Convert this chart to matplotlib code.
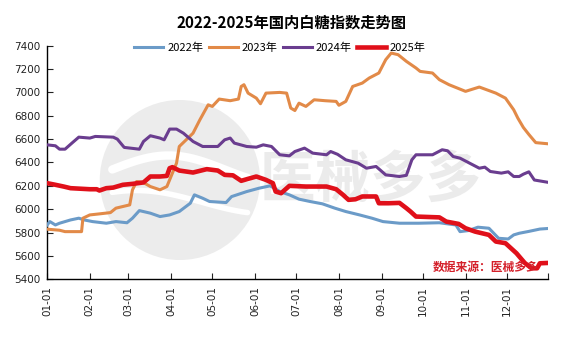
import numpy as np
import pandas as pd
import matplotlib
matplotlib.use("Agg")
import matplotlib.pyplot as plt
from matplotlib.patches import Ellipse

plt.rcParams['font.family'] = ['Noto Sans CJK SC', 'DejaVu Sans']

# day of year (0 = 01-01) and index value
d22 = [0, 2, 6, 9, 17, 23, 27, 33, 43, 50, 58, 62, 67, 75, 82, 89, 96, 104, 107, 113, 118,
       130, 134, 145, 154, 162, 165, 169, 176, 183, 191, 200, 209, 217, 227, 236, 244, 256,
       270, 285, 297, 300, 306, 313, 321, 328, 335, 339, 343, 350, 358, 364]
v22 = [5865, 5894, 5865, 5880, 5908, 5923, 5908, 5894, 5880, 5894, 5884, 5923, 5988, 5966,
       5937, 5951, 5980, 6051, 6123, 6094, 6066, 6057, 6108, 6151, 6180, 6200, 6180, 6151,
       6123, 6086, 6066, 6046, 6009, 5980, 5951, 5923, 5894, 5880, 5880, 5884, 5865, 5808,
       5817, 5846, 5837, 5751, 5745, 5780, 5794, 5810, 5830, 5835]

d23 = [0, 9, 13, 25, 26, 31, 38, 46, 50, 55, 60, 62, 65, 70, 75, 82, 87, 90, 94, 96, 101,
       106, 111, 117, 120, 125, 133, 139, 141, 143, 146, 152, 155, 159, 169, 174, 177, 180,
       183, 188, 194, 202, 210, 212, 217, 222, 229, 234, 241, 246, 250, 255, 261, 268, 271,
       280, 285, 292, 304, 314, 326, 333, 339, 342, 346, 350, 355, 364]
v23 = [5829, 5820, 5808, 5808, 5923, 5951, 5960, 5971, 6009, 6023, 6037, 6166, 6237, 6228,
       6194, 6166, 6194, 6280, 6394, 6537, 6594, 6651, 6766, 6894, 6880, 6943, 6929, 6943,
       7051, 7066, 6994, 6951, 6903, 6994, 7000, 6994, 6866, 6845, 6908, 6880, 6937, 6929,
       6923, 6890, 6923, 7051, 7080, 7123, 7166, 7280, 7337, 7323, 7266, 7209, 7180, 7166,
       7109, 7066, 7009, 7046, 6994, 6951, 6851, 6780, 6700, 6640, 6570, 6560]

d24 = [0, 6, 9, 13, 18, 23, 31, 35, 48, 51, 56, 67, 70, 75, 82, 85, 89, 94, 99, 106, 113,
       124, 129, 133, 136, 145, 152, 157, 163, 169, 176, 180, 187, 193, 203, 206, 211, 217,
       226, 232, 239, 246, 256, 261, 265, 268, 280, 287, 291, 295, 300, 306, 314, 318, 322,
       330, 335, 339, 343, 346, 350, 354, 364]
v24 = [6551, 6543, 6514, 6514, 6566, 6617, 6609, 6623, 6617, 6600, 6529, 6514, 6580, 6629,
       6609, 6594, 6686, 6686, 6651, 6580, 6537, 6537, 6594, 6609, 6566, 6537, 6531, 6551,
       6537, 6466, 6457, 6494, 6523, 6480, 6466, 6494, 6470, 6423, 6394, 6351, 6366, 6294,
       6280, 6290, 6423, 6466, 6466, 6509, 6500, 6451, 6437, 6400, 6351, 6360, 6323, 6309,
       6320, 6280, 6280, 6300, 6320, 6250, 6230]

d25 = [0, 6, 12, 17, 31, 36, 38, 43, 48, 55, 62, 70, 75, 82, 87, 89, 91, 96, 106, 116, 124,
       129, 135, 141, 146, 152, 159, 164, 166, 170, 176, 188, 203, 210, 215, 219, 224, 229,
       239, 241, 248, 256, 261, 264, 268, 285, 290, 299, 304, 311, 321, 326, 333, 337, 341,
       347, 352, 356, 358, 364]
v25 = [6223, 6209, 6194, 6180, 6171, 6171, 6160, 6180, 6185, 6209, 6217, 6229, 6280, 6280,
       6285, 6351, 6360, 6331, 6314, 6343, 6331, 6294, 6290, 6243, 6260, 6280, 6251, 6223,
       6151, 6137, 6200, 6194, 6194, 6171, 6123, 6080, 6085, 6109, 6109, 6051, 6051, 6054,
       6009, 5980, 5937, 5930, 5894, 5874, 5837, 5808, 5780, 5723, 5709, 5666, 5623, 5540,
       5494, 5494, 5537, 5540]

labels = ['2022年', '2023年', '2024年', '2025年']
colors = ['#6b9bc8', '#e28a48', '#6a3d8f', '#e0101a']
widths = [2.2, 2.2, 2.2, 3.3]

months = pd.date_range('2001-01-01', periods=12, freq='MS')
month_days = [(m - months[0]).days for m in months]
month_labels = [m.strftime('%m-%d') for m in months]

fig = plt.figure(figsize=(5.68, 3.41), dpi=100)
ax = fig.add_axes([0.083, 0.181, 0.882, 0.685])

# watermark (logo circle + text)
ax.add_patch(Ellipse((0.265, 0.425), 0.32, 0.685, transform=ax.transAxes,
                     color='#ececec', zorder=0, lw=0))
t = np.linspace(0.13, 0.40, 60)
ax.plot(t, 0.47 + 0.06 * np.sin((t - 0.13) * 14), transform=ax.transAxes,
        color='white', lw=6, zorder=0.5, solid_capstyle='round')
ax.plot(t, 0.33 + 0.05 * np.sin((t - 0.13) * 12 + 1.0), transform=ax.transAxes,
        color='white', lw=4, zorder=0.5, solid_capstyle='round')
ax.text(0.645, 0.42, '医械多多', transform=ax.transAxes, fontsize=40, fontweight='bold',
        color='#ebebeb', ha='center', va='center', zorder=0.6)

for d, v, lab, c, w in zip([d22, d23, d24, d25], [v22, v23, v24, v25], labels, colors, widths):
    ax.plot(d, v, color=c, lw=w, label=lab, zorder=3, solid_joinstyle='round')

ax.set_xlim(0, 364)
ax.set_ylim(5400, 7400)
ax.set_yticks(np.arange(5400, 7401, 200))
ax.set_xticks(month_days + [364])
ax.set_xticklabels(month_labels + [''], rotation=90, family='DejaVu Sans')
ax.tick_params(axis='both', direction='in', labelsize=7.5, length=4, width=0.8,
               colors='#222222', pad=5)
for lab in ax.get_yticklabels():
    lab.set_family('DejaVu Sans')
for s in ['top', 'right']:
    ax.spines[s].set_visible(False)
for s in ['left', 'bottom']:
    ax.spines[s].set_linewidth(1.0)
    ax.spines[s].set_color('black')

fig.text(0.514, 0.935, '2022-2025年国内白糖指数走势图', ha='center', va='center',
         fontsize=11, fontweight='bold')
ax.legend(loc='center', bbox_to_anchor=(0.465, 0.99), ncol=4, frameon=False,
          fontsize=8, handlelength=2.6, columnspacing=0.5, handletextpad=0.35,
          borderaxespad=0)
ax.text(0.98, 0.05, '数据来源：医械多多', transform=ax.transAxes, ha='right', va='center',
        fontsize=8.5, fontweight='bold', style='italic', color='#d4202a', zorder=4)

fig.savefig('out.png', dpi=100)
